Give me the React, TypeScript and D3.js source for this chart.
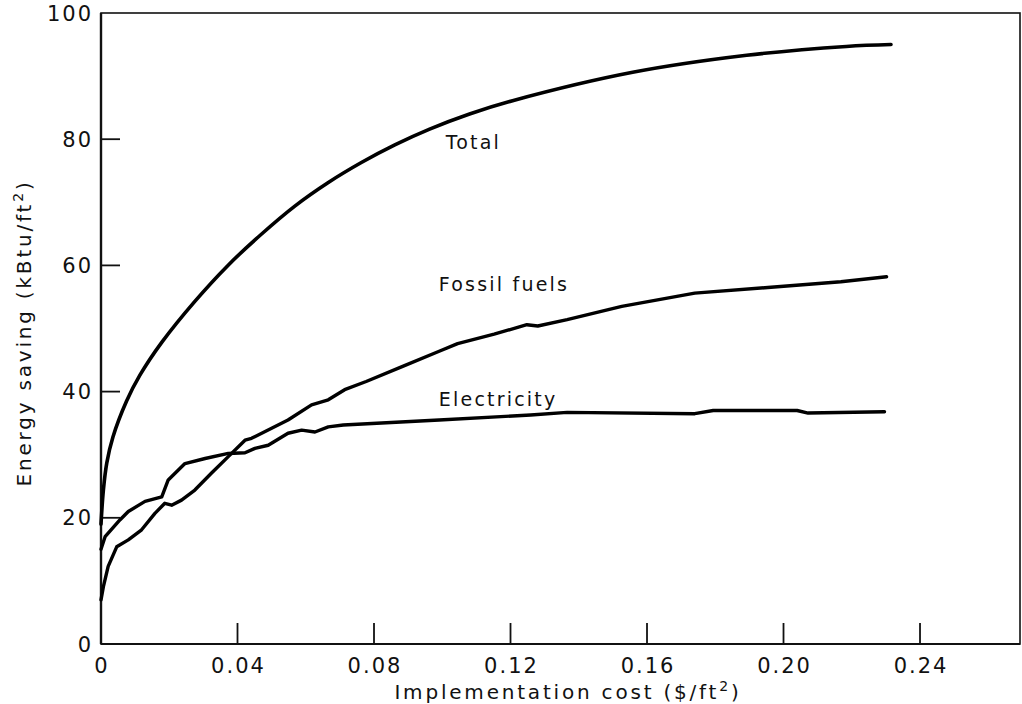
import React from 'react';
import * as d3 from 'd3';

// cost ($/ft2) vs saving (kBtu/ft2)
const totalCurve: [number, number][] = [
  [0, 19], [0.0007, 24.4], [0.0017, 28.7], [0.0035, 32.8], [0.0075, 38.5],
  [0.0114, 42.6], [0.0178, 47.8], [0.0275, 54.3], [0.0372, 60.0], [0.0469, 64.9],
  [0.0568, 69.4], [0.0665, 73.1], [0.0763, 76.3], [0.0861, 79.1], [0.0963, 81.6],
  [0.108, 84.0], [0.1206, 86.1], [0.1558, 90.6], [0.1892, 93.3], [0.2184, 94.7],
  [0.2315, 95.0],
];

const fossilCurve: [number, number][] = [
  [0, 7], [0.0007, 9.1], [0.0021, 12.3], [0.0046, 15.4], [0.008, 16.5],
  [0.0119, 18.1], [0.0158, 20.7], [0.0187, 22.3], [0.0207, 22.0], [0.0236, 22.8],
  [0.0275, 24.4], [0.0324, 27.1], [0.0373, 29.7], [0.0422, 32.3], [0.0441, 32.6],
  [0.05, 34.2], [0.0548, 35.5], [0.0617, 37.9], [0.0666, 38.7], [0.0714, 40.3],
  [0.0777, 41.6], [0.0884, 44.0], [0.0991, 46.4], [0.1045, 47.6], [0.1152, 49.1],
  [0.1248, 50.6], [0.128, 50.4], [0.1366, 51.4], [0.1526, 53.5], [0.174, 55.6],
  [0.1954, 56.5], [0.2168, 57.4], [0.2302, 58.2],
];

const electricityCurve: [number, number][] = [
  [0, 15], [0.0012, 17.0], [0.0056, 19.7], [0.008, 21.0], [0.0129, 22.6],
  [0.0178, 23.3], [0.0197, 26.0], [0.0246, 28.6], [0.0305, 29.4], [0.0373, 30.2],
  [0.0422, 30.3], [0.0451, 31.0], [0.049, 31.5], [0.0548, 33.4], [0.0588, 33.9],
  [0.0627, 33.6], [0.0666, 34.4], [0.071, 34.7], [0.0991, 35.5], [0.1259, 36.3],
  [0.1366, 36.7], [0.174, 36.5], [0.1794, 37.0], [0.204, 37.0], [0.2072, 36.6],
  [0.2296, 36.8],
];

const xTicks = [0, 0.04, 0.08, 0.12, 0.16, 0.2, 0.24];
const xTickLabels = ['0', '0.04', '0.08', '0.12', '0.16', '0.20', '0.24'];
const yTicks = [0, 20, 40, 60, 80, 100];

const curveLabels = [
  { text: 'Total', x: 0.101, y: 78.5 },
  { text: 'Fossil fuels', x: 0.099, y: 56.0 },
  { text: 'Electricity', x: 0.099, y: 37.7 },
];

const W = 1022;
const H = 704;
const FONT = '"DejaVu Sans", sans-serif';

export default function App() {
  const x = d3.scaleLinear().domain([0, 0.2693]).range([101, 1020]);
  const y = d3.scaleLinear().domain([0, 100]).range([644, 13]);

  const smooth = d3.line<[number, number]>()
    .x(d => x(d[0]))
    .y(d => y(d[1]))
    .curve(d3.curveCatmullRom.alpha(0.5));
  const rough = d3.line<[number, number]>()
    .x(d => x(d[0]))
    .y(d => y(d[1]))
    .curve(d3.curveLinear);

  const [x0, x1] = x.range();
  const [y0, y1] = y.range();

  return (
    <svg width={W} height={H} style={{ position: 'absolute', left: 0, top: 0, background: '#fff' }}
      fontFamily={FONT}>
      {/* frame */}
      <rect x={x0} y={y1} width={x1 - x0} height={y0 - y1} fill="none" stroke="#111" strokeWidth={1.6} />
      <line x1={x0} x2={x0} y1={y1} y2={y0} stroke="#111" strokeWidth={2.4} />
      <line x1={x0} x2={x1} y1={y0} y2={y0} stroke="#111" strokeWidth={2.2} />

      {/* y ticks */}
      {yTicks.map(t => (
        <g key={'y' + t}>
          {t > 0 && t < 100 && (
            <line x1={x0} x2={x0 + 19} y1={y(t)} y2={y(t)} stroke="#111" strokeWidth={1.8} />
          )}
          <text x={93} y={y(t)} dy="0.36em" textAnchor="end" fontSize={21} letterSpacing={2} fill="#111">
            {t}
          </text>
        </g>
      ))}

      {/* x ticks */}
      {xTicks.map((t, i) => (
        <g key={'x' + t}>
          {t > 0 && (
            <line x1={x(t)} x2={x(t)} y1={y0} y2={y0 - 21} stroke="#111" strokeWidth={1.8} />
          )}
          <text x={x(t) + 1} y={673} textAnchor="middle" fontSize={21} letterSpacing={2} fill="#111">
            {xTickLabels[i]}
          </text>
        </g>
      ))}

      {/* axis titles */}
      <text x={568} y={699} textAnchor="middle" fontSize={20} letterSpacing={2.8} fill="#111">
        Implementation cost ($/ft<tspan dy={-8} fontSize={14}>2</tspan><tspan dy={8}>)</tspan>
      </text>
      <text transform="translate(31,333) rotate(-90)" textAnchor="middle" fontSize={20} letterSpacing={2.8} fill="#111">
        Energy saving (kBtu/ft<tspan dy={-8} fontSize={14}>2</tspan><tspan dy={8}>)</tspan>
      </text>

      {/* curves */}
      <path d={smooth(totalCurve) ?? ''} fill="none" stroke="#000" strokeWidth={3.6} strokeLinecap="round" />
      <path d={rough(fossilCurve) ?? ''} fill="none" stroke="#000" strokeWidth={3.4}
        strokeLinejoin="round" strokeLinecap="round" />
      <path d={rough(electricityCurve) ?? ''} fill="none" stroke="#000" strokeWidth={3.4}
        strokeLinejoin="round" strokeLinecap="round" />

      {curveLabels.map(l => (
        <text key={l.text} x={x(l.x)} y={y(l.y)} fontSize={19} letterSpacing={2.2} fill="#111">
          {l.text}
        </text>
      ))}
    </svg>
  );
}
